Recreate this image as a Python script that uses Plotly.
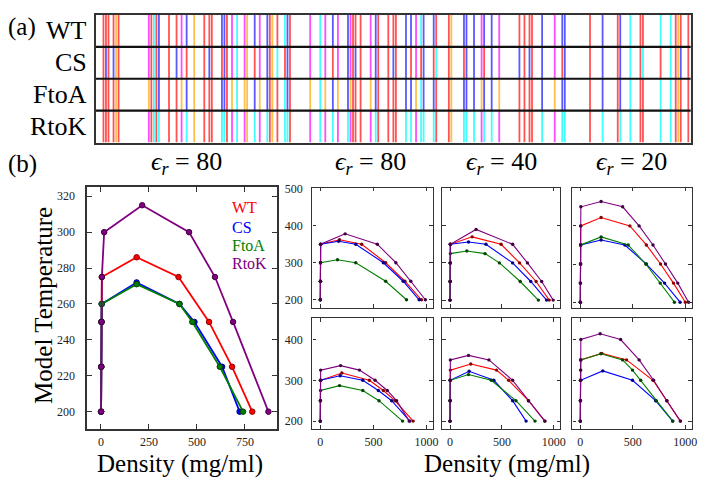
import plotly.graph_objects as go

# ---------------- Panel (a): sequence barcodes ----------------
WT_SEQ = ("MGDEDWEAEI" "NPHMSSYVPI" "FEKDRYSGEN" "GDNFNRTPAS" "SSEMDDGPSR"
          "RDHFMKSGFA" "SGRNFGNRDA" "GECNKRDNTS" "TMGGFGVGKS" "FGNRGFSNSR"
          "FEDGDSSGFW" "RESSNDCEDN" "PTRNRGFSKR" "GGYRDGNNSE" "ASGPYRRGGR"
          "GSFRGCRGGF" "GLGSPNNDLD" "PDECMQRTGG" "LFGSRRPVLS" "GTGNGDTSQS"
          "RSGSGSERGG" "YKGLNEEVIT" "GSGKNSWKSE" "AEGGES")

# charge-scrambled variant: residue type at each charged position
CS_CHARGED = {3: 'E', 4: 'R', 5: 'E', 7: 'R', 9: 'E', 22: 'E', 23: 'K', 24: 'E', 25: 'R',
              29: 'E', 32: 'R', 36: 'E', 43: 'E', 45: 'R', 46: 'E', 50: 'E', 51: 'R', 52: 'E',
              56: 'K', 63: 'E', 68: 'R', 69: 'E', 72: 'K', 75: 'E', 76: 'R', 77: 'E', 89: 'K',
              94: 'E', 100: 'R', 102: 'E', 103: 'R', 105: 'E', 111: 'R', 112: 'E', 116: 'E',
              118: 'R', 119: 'E', 123: 'R', 125: 'E', 129: 'E', 130: 'R', 134: 'E', 135: 'K',
              140: 'E', 146: 'E', 147: 'R', 150: 'R', 154: 'E', 157: 'R', 168: 'R', 170: 'E',
              172: 'R', 173: 'E', 177: 'R', 185: 'E', 186: 'R', 196: 'E', 201: 'R', 207: 'E',
              208: 'R', 212: 'K', 216: 'E', 217: 'K', 224: 'E', 228: 'K', 230: 'E', 232: 'R',
              235: 'E'}

ROW_NAMES = ["WT", "CS", "FtoA", "RtoK"]
RES_TYPES = ["DE", "R", "K", "F", "A"]
RES_COLORS = ["rgba(255,0,0,0.68)", "rgba(0,0,255,0.65)", "rgba(0,255,255,0.75)",
              "rgba(255,0,255,0.7)", "rgba(255,165,0,0.7)"]


def cs_sequence(seq):
    s = list(seq)
    for p, r in CS_CHARGED.items():
        s[p - 1] = r
    return "".join(s)


SEQS = [WT_SEQ, cs_sequence(WT_SEQ), WT_SEQ.replace("F", "A"), WT_SEQ.replace("R", "K")]

# ---------------- Panel (b): phase diagrams ----------------
SERIES = ["WT", "CS", "FtoA", "RtoK"]
SERIES_COLORS = ["#ff0000", "#0000ff", "#008000", "#800080"]
MARKER_EDGE = ["#8a0000", "#00008a", "#004400", "#400040"]

# main panel (eps_r = 80); order WT, CS, FtoA, RtoK
MAIN_DENS = [
    [1, 2, 3, 5, 186, 404, 563, 683, 788],
    [1, 2, 3, 4, 186, 409, 487, 631, 722],
    [1, 2, 3, 4, 186, 409, 476, 619, 740],
    [1, 2, 3, 5, 17, 215, 459, 594, 688, 872],
]
MAIN_TEMP = [
    [200, 225, 250, 275, 286, 275, 250, 225, 200],
    [200, 225, 250, 260, 272, 260, 250, 225, 200],
    [200, 225, 250, 260, 271, 260, 250, 225, 200],
    [200, 225, 250, 275, 300, 315, 300, 275, 250, 200],
]

# small panels: [panel][series WT, CS, FtoA, RtoK]
SMALL_DENS = [
    # top row: eps 80, 40, 20
    [[0, 1, 2, 3, 181, 390, 616, 797, 953],
     [0, 1, 2, 3, 172, 334, 594, 781, 931],
     [0, 1, 2, 162, 334, 616, 812],
     [0, 1, 2, 3, 234, 537, 712, 853, 990]],
    [[0, 1, 2, 3, 213, 492, 670, 829, 956],
     [0, 1, 2, 3, 178, 346, 603, 778, 930],
     [0, 1, 2, 3, 162, 337, 476, 676, 851],
     [0, 1, 2, 3, 251, 603, 746, 883, 994]],
    [[0, 1, 2, 3, 4, 198, 472, 629, 764, 887, 1000],
     [0, 1, 2, 3, 198, 424, 629, 802, 950],
     [0, 1, 2, 3, 198, 456, 623, 761, 896],
     [0, 1, 2, 3, 4, 5, 198, 403, 560, 692, 811, 928, 1031]],
    # bottom row
    [[0, 1, 2, 203, 462, 594, 703, 875],
     [0, 1, 2, 187, 400, 547, 672, 844],
     [0, 1, 2, 181, 400, 553, 775],
     [0, 1, 2, 3, 191, 369, 516, 631, 719, 837]],
    [[0, 1, 2, 3, 200, 448, 565, 756, 914],
     [0, 1, 2, 184, 422, 603, 733],
     [0, 1, 2, 178, 397, 635, 819],
     [0, 1, 2, 3, 178, 375, 603, 756, 914]],
    [[0, 1, 2, 3, 204, 440, 692, 824, 953],
     [0, 1, 2, 214, 497, 717, 880],
     [0, 1, 2, 3, 4, 195, 403, 497, 575, 723, 880],
     [0, 1, 2, 3, 4, 5, 189, 384, 560, 698, 824, 953]],
]
SMALL_TEMP = [
    [[200, 250, 300, 350, 362, 350, 300, 250, 200],
     [200, 250, 300, 350, 358, 350, 300, 250, 200],
     [200, 250, 300, 308, 300, 250, 200],
     [200, 250, 300, 350, 378, 350, 300, 250, 200]],
    [[200, 250, 300, 350, 370, 350, 300, 250, 200],
     [200, 250, 300, 350, 356, 350, 300, 250, 200],
     [200, 250, 300, 325, 332, 325, 300, 250, 200],
     [200, 250, 300, 350, 390, 350, 300, 250, 200]],
    [[200, 250, 300, 350, 400, 422, 400, 350, 300, 250, 200],
     [200, 250, 300, 350, 363, 350, 300, 250, 200],
     [200, 250, 300, 350, 371, 350, 300, 250, 200],
     [200, 250, 300, 350, 400, 450, 464, 450, 400, 350, 300, 250, 200]],
    [[200, 250, 300, 318, 300, 275, 250, 200],
     [200, 250, 300, 311, 300, 275, 250, 200],
     [200, 250, 275, 287, 275, 250, 200],
     [200, 250, 300, 325, 336, 325, 300, 275, 250, 200]],
    [[200, 250, 300, 325, 340, 325, 300, 250, 200],
     [200, 250, 300, 322, 300, 250, 200],
     [200, 250, 300, 314, 300, 250, 200],
     [200, 250, 300, 350, 361, 350, 300, 250, 200]],
    [[200, 250, 300, 350, 366, 350, 300, 250, 200],
     [200, 250, 300, 323, 300, 250, 200],
     [200, 250, 300, 325, 350, 365, 350, 325, 300, 250, 200],
     [200, 250, 300, 325, 350, 400, 414, 400, 350, 300, 250, 200]],
]
EPS_TITLES = ["80", "80", "40", "20"]
MAIN_XTICKS = [0, 250, 500, 750]
MAIN_YTICKS = [200, 220, 240, 260, 280, 300, 320]
SMALL_XTICKS = [0, 500, 1000]
TOP_YTICKS = [200, 300, 400, 500]
BOT_YTICKS = [200, 300, 400]

W, H = 714, 485
FONT = "Liberation Serif"


def px(x):
    return x / W


def py(y):
    return 1 - y / H


fig = go.Figure()

# barcode lines
for k, seq in enumerate(SEQS):
    y0 = 3 - k
    for types, col in zip(RES_TYPES, RES_COLORS):
        xs, ys = [], []
        for i, ch in enumerate(seq, start=1):
            if ch in types:
                xs += [i, i, None]
                ys += [y0, y0 + 1, None]
        fig.add_trace(go.Scatter(x=xs, y=ys, mode="lines", xaxis="x", yaxis="y",
                                 line=dict(color=col, width=1.8), showlegend=False,
                                 hoverinfo="skip"))

# main panel
for s in range(4):
    fig.add_trace(go.Scatter(x=MAIN_DENS[s], y=MAIN_TEMP[s], mode="lines+markers",
                             xaxis="x2", yaxis="y2", showlegend=False,
                             line=dict(color=SERIES_COLORS[s], width=1.8),
                             marker=dict(size=5.5, color=SERIES_COLORS[s],
                                         line=dict(color=MARKER_EDGE[s], width=1))))

# small panels
for p in range(6):
    ax = p + 3
    for s in range(4):
        fig.add_trace(go.Scatter(x=SMALL_DENS[p][s], y=SMALL_TEMP[p][s], mode="lines+markers",
                                 xaxis=f"x{ax}", yaxis=f"y{ax}", showlegend=False,
                                 line=dict(color=SERIES_COLORS[s], width=1.1),
                                 marker=dict(size=3.4, color=MARKER_EDGE[s])))

axis_common = dict(showline=True, linecolor="#333", mirror="allticks", ticks="inside",
                   showgrid=False, zeroline=False, tickcolor="#333",
                   tickfont=dict(family=FONT, size=12, color="#222"))

layout = dict(
    width=W, height=H, margin=dict(l=0, r=0, t=0, b=0), autosize=False,
    paper_bgcolor="white", plot_bgcolor="white",
    font=dict(family=FONT, color="black"),
    xaxis=dict(domain=[px(96.7), px(696.7)], range=[0, 236], showline=True, linecolor="#333",
               linewidth=2, mirror=True, showticklabels=False, ticks="", showgrid=False,
               zeroline=False, anchor="y"),
    yaxis=dict(domain=[py(138.3), py(9)], range=[0, 4], showline=True, linecolor="#333",
               linewidth=2, mirror=True, showticklabels=False, ticks="", showgrid=False,
               zeroline=False, anchor="x"),
    xaxis2=dict(domain=[px(88), px(279)], range=[-71, 915], tickvals=MAIN_XTICKS,
                anchor="y2", ticklen=5, linewidth=1.6, ticklabelstandoff=1, **axis_common),
    yaxis2=dict(domain=[py(428), py(183)], range=[190.5, 325.3], tickvals=MAIN_YTICKS,
                anchor="x2", ticklen=5, linewidth=1.6, ticklabelstandoff=8, **axis_common),
)

col_dom = [[px(315), px(436.7)], [px(446), px(565)], [px(577.3), px(697.7)]]
row_dom = [[py(305.7), py(184)], [py(428.3), py(316)]]
yranges = [[178, 502.5], [179, 502], [185, 500], [180.6, 452.5], [180.6, 452.5], [180.6, 452.5]]
for p in range(6):
    r, c = divmod(p, 3)
    ax = p + 3
    layout[f"xaxis{ax}"] = dict(domain=col_dom[c], range=[-75, 1062], tickvals=SMALL_XTICKS,
                                anchor=f"y{ax}", ticklen=3.5, linewidth=1.3,
                                showticklabels=(r == 1), ticklabelstandoff=1, **axis_common)
    layout[f"yaxis{ax}"] = dict(domain=row_dom[r], range=yranges[p],
                                tickvals=TOP_YTICKS if r == 0 else BOT_YTICKS,
                                anchor=f"x{ax}", ticklen=3.5, linewidth=1.3,
                                showticklabels=(c == 0), ticklabelstandoff=6, **axis_common)

fig.update_layout(**layout)

# row separators in the barcode panel
for yb in [1, 2, 3]:
    fig.add_shape(type="line", xref="x", yref="y", x0=0, x1=236, y0=yb, y1=yb,
                  line=dict(color="#111", width=2.2))

ann = []


def text(x, y, t, size, color="black", xanchor="center", angle=0):
    ann.append(dict(x=px(x), y=py(y), xref="paper", yref="paper", text=t, showarrow=False,
                    xanchor=xanchor, yanchor="middle", textangle=angle,
                    font=dict(family=FONT, size=size, color=color)))


text(6, 21, "(a)", 25, xanchor="left")
for name, yc in zip(ROW_NAMES, [25, 57, 90, 122]):
    text(90, yc, name, 26, xanchor="right")
text(6, 160, "(b)", 25, xanchor="left")
for t, xc in zip(EPS_TITLES, [188, 374, 506, 637]):
    text(xc, 159, f"<i>ϵ</i><sub><i>r</i></sub> = {t}", 26)
text(44, 303, "Model Temperature", 25, angle=-90)
text(182, 464, "Density (mg/ml)", 25)
text(511, 464, "Density (mg/ml)", 25)
for name, col, yc in zip(SERIES, SERIES_COLORS, [204, 224, 243, 261]):
    text(232, yc, name, 16, color=col, xanchor="left")

fig.update_layout(annotations=ann)
fig.write_html("out.html", config={"displayModeBar": False},
               post_script="document.body.style.margin='0px';")
